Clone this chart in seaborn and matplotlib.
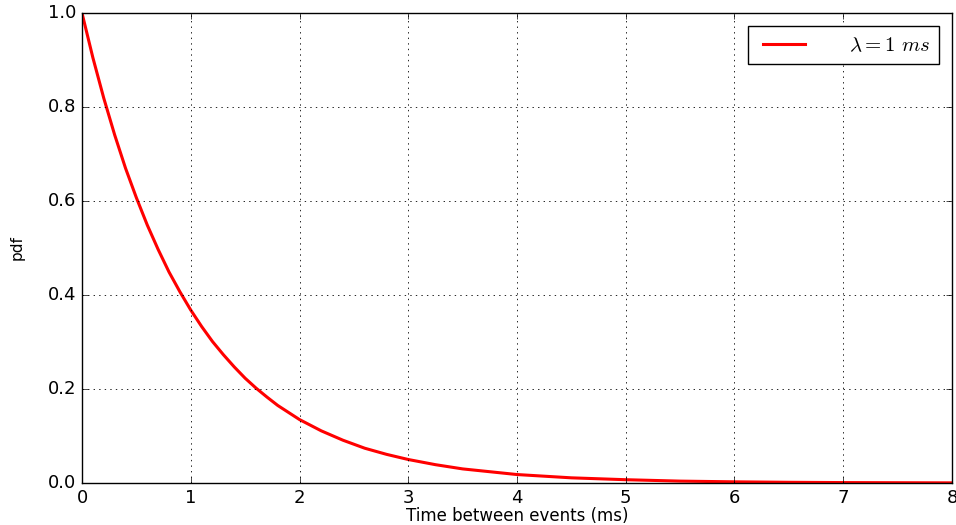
import matplotlib
matplotlib.use("Agg")
import matplotlib.pyplot as plt
import seaborn as sns
import pandas as pd

# Values
time_ms = [0, 0.1, 0.2, 0.3, 0.4, 0.5, 0.6, 0.7, 0.8, 0.9, 1.0,
           1.1, 1.2, 1.3, 1.4, 1.5, 1.6, 1.7, 1.8, 1.9, 2.0,
           2.2, 2.4, 2.6, 2.8, 3.0, 3.25, 3.5, 3.75, 4.0,
           4.5, 5.0, 5.5, 6.0, 6.5, 7.0, 7.5, 8.0]
pdf_vals = [1.0, 0.905, 0.819, 0.741, 0.670, 0.607, 0.549, 0.497, 0.449, 0.407, 0.368,
            0.333, 0.301, 0.273, 0.247, 0.223, 0.202, 0.183, 0.165, 0.150, 0.135,
            0.111, 0.091, 0.074, 0.061, 0.050, 0.039, 0.030, 0.024, 0.018,
            0.011, 0.007, 0.004, 0.0025, 0.0015, 0.0009, 0.0006, 0.0003]
x_ticks = [0, 1, 2, 3, 4, 5, 6, 7, 8]
y_ticks = [0.0, 0.2, 0.4, 0.6, 0.8, 1.0]

df = pd.DataFrame({"time": time_ms, "pdf": pdf_vals})

plt.style.use("classic")
plt.rcParams["figure.facecolor"] = "white"
plt.rcParams["savefig.facecolor"] = "white"
plt.rcParams["mathtext.fontset"] = "cm"
plt.rcParams["font.family"] = ["DejaVu Sans"]

fig = plt.figure(figsize=(9.56, 5.25), dpi=100)
ax = fig.add_axes([0.0858, 0.08, 0.910, 0.895])

sns.lineplot(data=df, x="time", y="pdf", ax=ax, color="red", linewidth=2.2,
             label=r"$\lambda = 1\ ms$")

ax.set_xlim(0, 8)
ax.set_ylim(0, 1.0)
ax.set_xticks(x_ticks)
ax.set_yticks(y_ticks)
ax.set_xticklabels([str(t) for t in x_ticks])
ax.set_yticklabels([f"{t:.1f}" for t in y_ticks])
ax.tick_params(labelsize=13)
ax.grid(True, color="k", linestyle=":", linewidth=0.6)
ax.set_xlabel("Time between events (ms)", fontsize=12, labelpad=0)
ax.set_ylabel("pdf", fontsize=11, labelpad=17)

leg = ax.legend(loc="upper right", fontsize=15, fancybox=False, borderaxespad=0.6,
                handlelength=2.6, handletextpad=1.8, borderpad=0.45)
leg.get_frame().set_edgecolor("black")

fig.savefig("out.png", dpi=100)
